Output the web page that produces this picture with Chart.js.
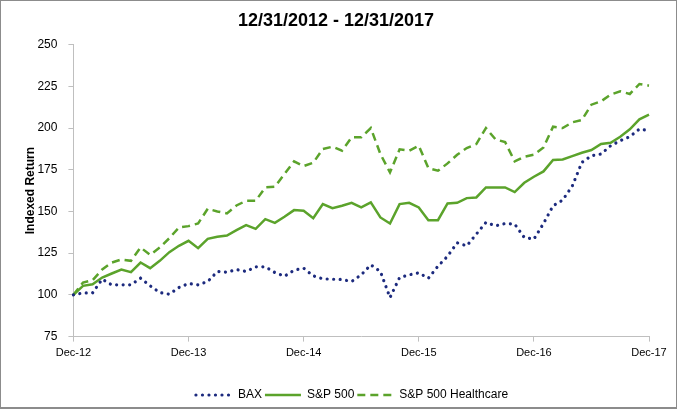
<!DOCTYPE html>
<html>
<head>
<meta charset="utf-8">
<script src="https://cdn.jsdelivr.net/npm/chart.js@4"></script>
<style>
  html, body { margin: 0; padding: 0; background: #fff; }
  #wrap { position: relative; width: 677px; height: 409px; box-sizing: border-box; border: 1px solid #8c8c8c; border-bottom-width: 2px; }
  #returnsChart { display: block; }
</style>
</head>
<body>
<div id="wrap"><canvas id="returnsChart" width="675" height="406"></canvas></div>
<script>
// monthly, Dec-12 .. Dec-17
const months = ['Dec-12', 'Jan-13', 'Feb-13', 'Mar-13', 'Apr-13', 'May-13', 'Jun-13', 'Jul-13', 'Aug-13', 'Sep-13', 'Oct-13', 'Nov-13',
  'Dec-13', 'Jan-14', 'Feb-14', 'Mar-14', 'Apr-14', 'May-14', 'Jun-14', 'Jul-14', 'Aug-14', 'Sep-14', 'Oct-14', 'Nov-14',
  'Dec-14', 'Jan-15', 'Feb-15', 'Mar-15', 'Apr-15', 'May-15', 'Jun-15', 'Jul-15', 'Aug-15', 'Sep-15', 'Oct-15', 'Nov-15',
  'Dec-15', 'Jan-16', 'Feb-16', 'Mar-16', 'Apr-16', 'May-16', 'Jun-16', 'Jul-16', 'Aug-16', 'Sep-16', 'Oct-16', 'Nov-16',
  'Dec-16', 'Jan-17', 'Feb-17', 'Mar-17', 'Apr-17', 'May-17', 'Jun-17', 'Jul-17', 'Aug-17', 'Sep-17', 'Oct-17', 'Nov-17',
  'Dec-17'];

const bax = [100, 101.2, 101.2, 109.4, 106, 106, 106, 110, 105.4, 101.4, 100.4, 104.4,
  106.8, 106, 108, 114, 113.6, 115.2, 114, 116.8, 116.8, 113.4, 111.2, 114.8,
  116, 111.4, 109.6, 109.4, 109.2, 108, 112, 118, 114, 98.4, 110.4, 112,
  113.2, 110, 117.2, 123.2, 131.2, 129.4, 136.4, 143.4, 141.4, 142.8, 142.4, 134.4,
  133.4, 142.8, 153.4, 156.8, 165.2, 179.4, 183.4, 184.4, 189.4, 192.4, 194.8, 199.4,
  198.4];

const sp500 = [100, 105.4, 106.4, 110.4, 112.8, 115.2, 113.6, 119.4, 116, 120.4, 125.6, 129.4,
  132.4, 128, 133.6, 134.8, 135.6, 138.8, 141.8, 139.6, 145.4, 143.2, 146.8, 150.8,
  150.4, 146, 154.4, 152, 153.4, 155.2, 152.4, 155.4, 146.4, 142.8, 154.4, 155.2,
  152.4, 144.8, 144.8, 154.8, 155.2, 158, 158.4, 164.4, 164.4, 164.4, 161.6, 167.2,
  170.8, 174, 180.8, 181.2, 183.2, 185.2, 186.8, 190.4, 191.2, 194.8, 199.2, 205.2,
  208];

const healthcare = [100, 107.4, 108.8, 115.2, 119.4, 121.2, 120.4, 128.4, 124, 128.4, 134, 140.4,
  141.2, 142.8, 151.6, 150, 148.8, 153.6, 156.4, 156.4, 164.4, 164.8, 172.4, 180,
  177.2, 179.2, 187.4, 188.8, 186.4, 194.4, 194.4, 200, 184.4, 173.4, 187.2, 186.4,
  189.4, 176, 174.4, 178.8, 184, 188, 190.4, 200, 193.2, 191.6, 180, 182.8,
  184, 188.4, 200.8, 200, 203.4, 204.8, 214, 216, 220, 222, 220.4, 226.4,
  225.4];

const yTicks = [75, 100, 125, 150, 175, 200, 225, 250];

const navy = '#1c2a7e';
const green = '#5ba32b';
const axisGrey = '#bfbfbf';
const fontFamily = '"Liberation Sans", Arial, sans-serif';

// legend line samples should look like the series lines
const lineLegendLabels = (chart) => {
  const items = Chart.defaults.plugins.legend.labels.generateLabels(chart);
  return items.map((item) => {
    const ds = chart.data.datasets[item.datasetIndex];
    return {
      ...item,
      lineDash: ds.borderDash || [],
      lineWidth: ds.borderWidth,
      lineCap: ds.borderCapStyle || 'butt',
      strokeStyle: ds.borderColor,
    };
  });
};

// legend sits a bit right of centre in the original
const legendNudge = {
  id: 'legendNudge',
  afterLayout(chart) {
    chart.legend.left += 16;
    chart.legend.right += 16;
  },
};

const ctx = document.querySelector('#returnsChart').getContext('2d');
const returnsChart = new Chart(ctx, {
  type: 'line',
  data: {
    labels: months,
    datasets: [{
      label: 'BAX',
      data: bax,
      borderColor: navy,
      backgroundColor: navy,
      borderWidth: 3.2,
      borderCapStyle: 'round',
      borderDash: [0.01, 6.5],
      pointRadius: 0,
      tension: 0,
    }, {
      label: 'S&P 500',
      data: sp500,
      borderColor: green,
      backgroundColor: green,
      borderWidth: 2.5,
      pointRadius: 0,
      tension: 0,
    }, {
      label: 'S&P 500 Healthcare',
      data: healthcare,
      borderColor: green,
      backgroundColor: green,
      borderWidth: 2.5,
      borderDash: [8, 5],
      pointRadius: 0,
      tension: 0,
    }],
  },
  plugins: [legendNudge],
  options: {
    responsive: false,
    animation: false,
    layout: { padding: { left: 22, right: 27, top: 4, bottom: -4 } },
    plugins: {
      title: {
        display: true,
        text: '12/31/2012 - 12/31/2017',
        color: '#000',
        font: { family: fontFamily, size: 18, weight: 'bold' },
        padding: { top: 5, bottom: 13 },
      },
      legend: {
        position: 'bottom',
        labels: {
          color: '#000',
          font: { family: fontFamily, size: 12 },
          usePointStyle: true,
          pointStyle: 'line',
          pointStyleWidth: 36,
          boxHeight: 12,
          padding: 3,
          generateLabels: lineLegendLabels,
        },
      },
      tooltip: { enabled: false },
    },
    scales: {
      x: {
        offset: false,
        border: { color: axisGrey, width: 1 },
        grid: {
          drawOnChartArea: false,
          tickLength: 5,
          color: (c) => (c.index % 12 === 0 ? axisGrey : 'rgba(0,0,0,0)'),
        },
        ticks: {
          autoSkip: false,
          maxRotation: 0,
          padding: 5,
          color: '#000',
          font: { family: fontFamily, size: 11 },
          callback: (v, i) => (i % 12 === 0 ? months[i] : ''),
        },
        // empty title only used as spacer above the legend
        title: {
          display: true,
          text: '',
          font: { size: 1 },
          padding: { top: 20, bottom: 0 },
        },
      },
      y: {
        min: 75,
        max: 250,
        afterBuildTicks: (axis) => { axis.ticks = yTicks.map((v) => ({ value: v })); },
        border: { color: axisGrey, width: 1 },
        grid: { drawOnChartArea: false, tickLength: 5, color: axisGrey },
        ticks: {
          color: '#000',
          padding: 11,
          font: { family: fontFamily, size: 12 },
        },
        title: {
          display: true,
          text: 'Indexed Return',
          color: '#000',
          font: { family: fontFamily, size: 12, weight: 'bold' },
          padding: { top: 0, bottom: -11 },
        },
      },
    },
  },
});
</script>
</body>
</html>
